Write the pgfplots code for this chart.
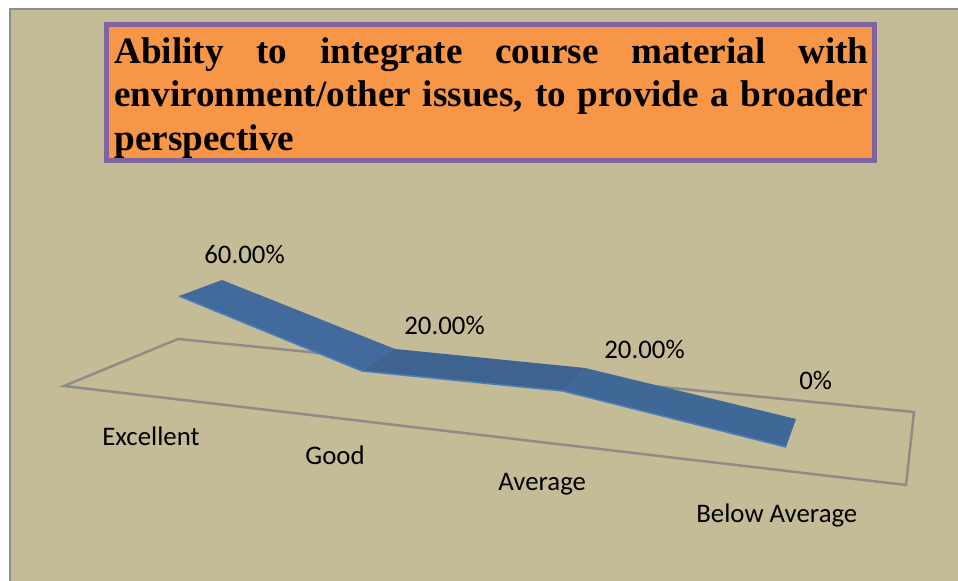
\documentclass[border=0pt]{standalone}
\usepackage{pgfplots}
\pgfplotsset{compat=1.18}
\usepackage{fontspec}
\setmainfont{Carlito}
\newfontfamily\titlefont{Liberation Serif}

\definecolor{panel}{HTML}{C4BC96}
\definecolor{panelline}{HTML}{8E8E8E}
\definecolor{titlefill}{HTML}{F79646}
\definecolor{titleline}{HTML}{8064A2}
\definecolor{floorline}{HTML}{8F8C88}
\definecolor{ribA}{HTML}{426A9C}
\definecolor{ribB}{HTML}{3E6390}
\definecolor{ribC}{HTML}{3F6897}
\definecolor{ribedge}{HTML}{4A7EBB}

\tikzset{lab/.style={anchor=base west, inner sep=0pt, font=\fontsize{13.4}{16}\selectfont}}

\begin{document}
\begin{tikzpicture}
% axis runs in image pixels, 0.5pt each, y downwards
\begin{axis}[
    scale only axis,
    width=479pt,
    height=290.5pt,
    xmin=0, xmax=958,
    ymin=0, ymax=581,
    y dir=reverse,
    hide axis,
    clip=true,
]
% white page, keeps the full picture size
\addplot[fill=white, draw=none] coordinates {(0,0) (958,0) (958,581) (0,581)} -- cycle;
% panel
\addplot[fill=panel, draw=none] coordinates {(10,9) (958,9) (958,581) (10,581)} -- cycle;
\addplot[draw=panelline, line width=1pt] coordinates {(10,581) (10,9) (958,9)};
% title box
\addplot[fill=titlefill, draw=titleline, line width=2.5pt] coordinates {(106.5,24.5) (874,24.5) (874,161) (106.5,161)} -- cycle;
% floor
\addplot[draw=floorline, line width=1.25pt] coordinates {(64,386) (178,339) (914,412) (906,485)} -- cycle;
% ribbon: Excellent, Good, Average, Below Average
\addplot[fill=ribA, draw=none] coordinates {(179,296) (222,280) (395,349) (362,371)} -- cycle;
\addplot[fill=ribB, draw=none] coordinates {(362,371) (395,349) (585,368) (563,391)} -- cycle;
\addplot[fill=ribC, draw=none] coordinates {(563,391) (585,368) (796,419) (786,447)} -- cycle;
\addplot[draw=ribedge, line width=0.8pt] coordinates {(179,296) (362,371) (563,391) (786,447)};

\node[anchor=north west, inner sep=0pt, text width=377pt, align=justify, font=\titlefont\bfseries\fontsize{18.6}{21.75}\selectfont]
  at (axis cs:114,37) {Ability to integrate course material with\linebreak environment/other issues, to provide a broader\linebreak perspective};

\node[lab] at (axis cs:204,263.5) {60.00\%};
\node[lab] at (axis cs:404,334.5) {20.00\%};
\node[lab] at (axis cs:604,358.5) {20.00\%};
\node[lab] at (axis cs:799,390) {0\%};
\node[lab] at (axis cs:102,446) {Excellent};
\node[lab] at (axis cs:305,465) {Good};
\node[lab] at (axis cs:498,491) {Average};
\node[lab] at (axis cs:696,523) {Below Average};
\end{axis}
\end{tikzpicture}
\end{document}
